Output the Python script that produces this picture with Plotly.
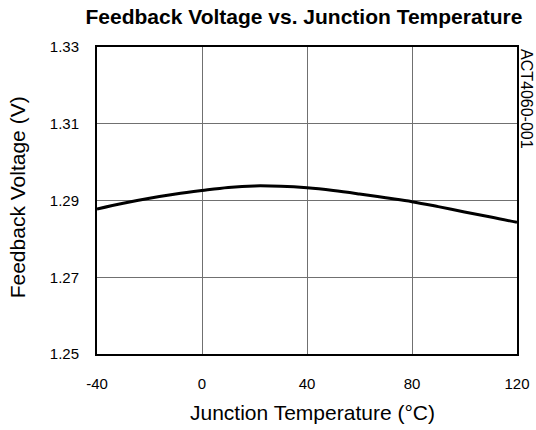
import plotly.graph_objects as go

temps = [-40, -30, -20, -10, 0, 10, 20, 30, 40, 50, 60, 70, 80, 90, 100, 110, 120]
vfb = [1.2878, 1.2893, 1.2906, 1.2917, 1.2926, 1.2934, 1.2938, 1.2937, 1.2933,
       1.2926, 1.2917, 1.2907, 1.2897, 1.2884, 1.2870, 1.2857, 1.2843]
x_ticks = [-40, 0, 40, 80, 120]
y_ticks = [1.25, 1.27, 1.29, 1.31, 1.33]

FONT = "Liberation Sans, Arial, sans-serif"

fig = go.Figure()
fig.add_trace(go.Scatter(x=temps, y=vfb, mode="lines", line=dict(color="black", width=3, shape="spline"),
                         showlegend=False, hoverinfo="skip"))

fig.update_layout(
    width=536, height=430,
    margin=dict(l=97, r=19, t=47, b=76),
    paper_bgcolor="white", plot_bgcolor="white",
    font=dict(family=FONT, color="black"),
    title=dict(text="<b>Feedback Voltage vs. Junction Temperature</b>", x=0.567, xanchor="center",
               xref="container", y=0.962, yanchor="middle", font=dict(size=21, family=FONT, color="black")),
    xaxis=dict(range=[-40, 120], tickvals=x_ticks, ticktext=[str(v) for v in x_ticks],
               showgrid=True, gridcolor="#707070", gridwidth=1,
               showline=True, linecolor="black", linewidth=2, mirror=True,
               ticks="", ticklabelstandoff=15, tickfont=dict(size=15),
               automargin=False, zeroline=False),
    yaxis=dict(range=[1.25, 1.33], tickvals=y_ticks, ticktext=["%.2f" % v for v in y_ticks],
               showgrid=True, gridcolor="#707070", gridwidth=1,
               showline=True, linecolor="black", linewidth=2, mirror=True,
               ticks="", ticklabelstandoff=13, tickfont=dict(size=15),
               automargin=False, zeroline=False),
    annotations=[
        dict(text="ACT4060-001", textangle=90, x=1.0, xref="paper", xshift=10,
             y=1.0, yref="paper", yanchor="top", xanchor="center", showarrow=False,
             font=dict(size=16, family=FONT, color="black")),
        dict(text="Feedback Voltage (V)", textangle=-90, x=-0.19, xref="paper", xanchor="center",
             y=0.511, yref="paper", yanchor="middle", showarrow=False,
             font=dict(size=21, family=FONT, color="black")),
        dict(text="Junction Temperature (°C)", x=0.513, xref="paper", xanchor="center",
             y=-0.192, yref="paper", yanchor="middle", showarrow=False,
             font=dict(size=21, family=FONT, color="black")),
    ],
)

fig.write_html("out.html", config={"displayModeBar": False},
               post_script="document.body.style.margin='0';document.body.style.overflow='hidden';")
